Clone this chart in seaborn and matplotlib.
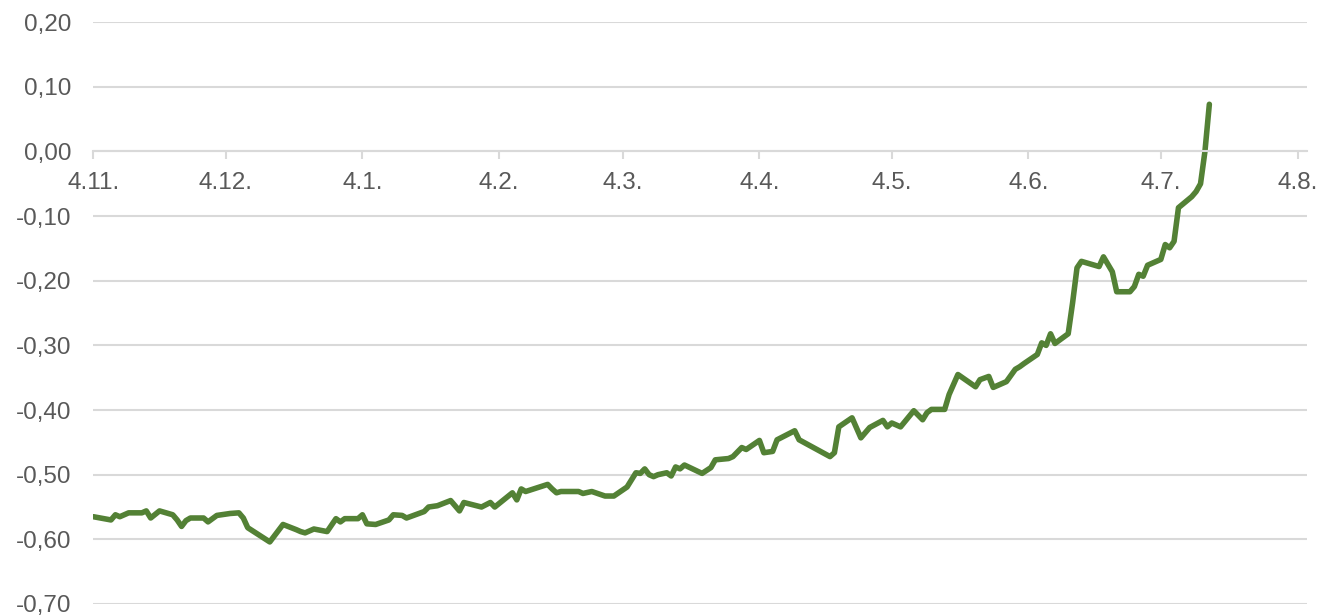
import pandas as pd
import seaborn as sns
import matplotlib.pyplot as plt
import matplotlib.dates as mdates
from matplotlib.ticker import FuncFormatter, MultipleLocator

# Dados
datas = [
    "2021-11-04", "2021-11-08", "2021-11-09", "2021-11-10", "2021-11-12", "2021-11-15",
    "2021-11-16", "2021-11-17", "2021-11-19", "2021-11-22", "2021-11-23", "2021-11-24",
    "2021-11-25", "2021-11-26", "2021-11-29", "2021-11-30", "2021-12-02", "2021-12-05",
    "2021-12-07", "2021-12-08", "2021-12-09", "2021-12-14", "2021-12-17", "2021-12-20",
    "2021-12-21", "2021-12-22", "2021-12-24", "2021-12-27", "2021-12-29", "2021-12-30",
    "2021-12-31", "2022-01-03", "2022-01-04", "2022-01-05", "2022-01-07", "2022-01-10",
    "2022-01-11", "2022-01-13", "2022-01-14", "2022-01-18", "2022-01-19", "2022-01-21",
    "2022-01-24", "2022-01-26", "2022-01-27", "2022-01-31", "2022-02-02", "2022-02-03",
    "2022-02-07", "2022-02-08", "2022-02-09", "2022-02-10", "2022-02-15", "2022-02-16",
    "2022-02-17", "2022-02-18", "2022-02-22", "2022-02-23", "2022-02-25", "2022-02-28",
    "2022-03-02", "2022-03-05", "2022-03-07", "2022-03-08", "2022-03-09", "2022-03-10",
    "2022-03-11", "2022-03-12", "2022-03-14", "2022-03-15", "2022-03-16", "2022-03-17",
    "2022-03-18", "2022-03-22", "2022-03-24", "2022-03-25", "2022-03-28", "2022-03-29",
    "2022-03-31", "2022-04-01", "2022-04-04", "2022-04-05", "2022-04-07", "2022-04-08",
    "2022-04-12", "2022-04-13", "2022-04-20", "2022-04-21", "2022-04-22", "2022-04-25",
    "2022-04-27", "2022-04-29", "2022-05-02", "2022-05-03", "2022-05-04", "2022-05-06",
    "2022-05-09", "2022-05-11", "2022-05-12", "2022-05-13", "2022-05-16", "2022-05-17",
    "2022-05-19", "2022-05-23", "2022-05-24", "2022-05-26", "2022-05-27", "2022-05-30",
    "2022-06-01", "2022-06-02", "2022-06-03", "2022-06-06", "2022-06-07", "2022-06-08",
    "2022-06-09", "2022-06-10", "2022-06-13", "2022-06-14", "2022-06-15", "2022-06-16",
    "2022-06-20", "2022-06-21", "2022-06-23", "2022-06-24", "2022-06-27", "2022-06-28",
    "2022-06-29", "2022-06-30", "2022-07-01", "2022-07-04", "2022-07-05", "2022-07-06",
    "2022-07-07", "2022-07-08", "2022-07-11", "2022-07-12", "2022-07-13", "2022-07-14",
    "2022-07-15",
]
valores = [
    -0.565, -0.570, -0.562, -0.565, -0.559, -0.559,
    -0.556, -0.567, -0.556, -0.562, -0.570, -0.580,
    -0.571, -0.567, -0.567, -0.573, -0.563, -0.560,
    -0.559, -0.567, -0.582, -0.604, -0.577, -0.585,
    -0.588, -0.590, -0.584, -0.588, -0.568, -0.573,
    -0.568, -0.568, -0.562, -0.576, -0.577, -0.570,
    -0.562, -0.563, -0.567, -0.557, -0.550, -0.548,
    -0.540, -0.556, -0.543, -0.550, -0.543, -0.550,
    -0.528, -0.539, -0.522, -0.526, -0.515, -0.522,
    -0.528, -0.526, -0.526, -0.529, -0.526, -0.533,
    -0.533, -0.519, -0.497, -0.498, -0.491, -0.500,
    -0.503, -0.500, -0.497, -0.502, -0.488, -0.491,
    -0.485, -0.498, -0.489, -0.477, -0.475, -0.472,
    -0.458, -0.461, -0.447, -0.466, -0.464, -0.446,
    -0.432, -0.446, -0.472, -0.466, -0.426, -0.412,
    -0.443, -0.427, -0.416, -0.426, -0.420, -0.426,
    -0.401, -0.415, -0.404, -0.399, -0.399, -0.376,
    -0.345, -0.364, -0.353, -0.348, -0.365, -0.356,
    -0.337, -0.333, -0.328, -0.314, -0.296, -0.300,
    -0.282, -0.297, -0.282, -0.234, -0.180, -0.170,
    -0.178, -0.163, -0.186, -0.217, -0.217, -0.209,
    -0.190, -0.193, -0.176, -0.167, -0.144, -0.149,
    -0.139, -0.087, -0.070, -0.062, -0.050, 0.000,
    0.073,
]

df = pd.DataFrame({"data": pd.to_datetime(datas), "valor": valores})

sns.set_style("white")
plt.rcParams["font.family"] = ["Liberation Sans", "DejaVu Sans"]

cinza = "#595959"
grade = "#d9d9d9"

fig = plt.figure(figsize=(13.23, 6.16), dpi=100)
ax = fig.add_axes([0.070, 0.0195, 0.918, 0.9445])

sns.lineplot(x="data", y="valor", data=df, color="#538135", linewidth=4.0, ax=ax)

ax.set_ylim(-0.70, 0.20)
ax.set_xlim(pd.Timestamp("2021-11-03 20:00"), pd.Timestamp("2022-08-06 04:00"))
ax.yaxis.set_major_locator(MultipleLocator(0.1))
ax.yaxis.set_major_formatter(FuncFormatter(lambda v, _: f"{v:.2f}".replace(".", ",")))
ax.xaxis.set_major_locator(mdates.MonthLocator(bymonthday=4))
ax.xaxis.set_major_formatter(FuncFormatter(lambda v, _: f"{mdates.num2date(v).day}.{mdates.num2date(v).month}."))

ax.grid(axis="y", color=grade, linewidth=1.5)
ax.set_axisbelow(True)
for lado in ["left", "right", "top"]:
    ax.spines[lado].set_visible(False)
ax.spines["bottom"].set_position(("data", 0))
ax.spines["bottom"].set_color(grade)
ax.spines["bottom"].set_linewidth(1.5)

ax.tick_params(axis="y", length=0, labelsize=17.5, labelcolor=cinza, pad=15)
ax.tick_params(axis="x", length=6, width=1.5, color=grade, labelsize=17.5,
               labelcolor=cinza, pad=9, direction="out", bottom=True)
ax.set_xlabel("")
ax.set_ylabel("")

plt.savefig("out.png", dpi=100)
